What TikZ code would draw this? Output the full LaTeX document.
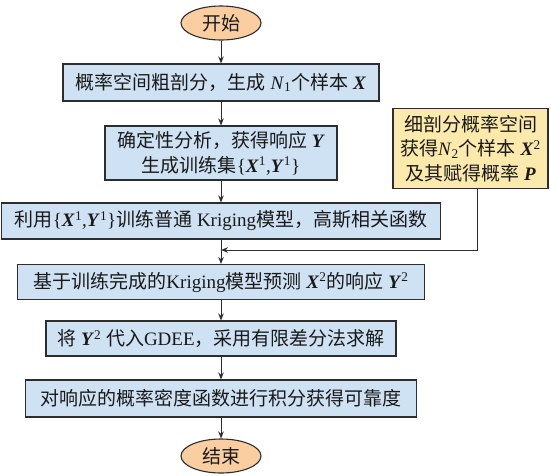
\documentclass[tikz,border=0pt]{standalone}
\usepackage{fontspec}
\setmainfont{Liberation Serif}
\newfontfamily\cjk{Noto Sans CJK SC}
\usetikzlibrary{shapes.geometric,arrows.meta}
\definecolor{boxblue}{RGB}{207,226,243}
\definecolor{termorange}{RGB}{250,206,160}
\definecolor{noteyellow}{RGB}{252,234,172}
\definecolor{edge}{RGB}{45,45,45}
\newcommand\zh[1]{{\cjk #1}}
\newcommand\bv[1]{\textbf{\textit{#1}}}
\tikzset{
  base/.style={draw=edge, line width=1.1pt, text=black!90, inner sep=0pt, align=center,
    font=\fontsize{19}{25}\selectfont},
  proc/.style={base, rectangle, fill=boxblue, minimum height=36pt},
  term/.style={base, ellipse, fill=termorange, minimum width=80pt, minimum height=34pt},
  note/.style={base, rectangle, fill=noteyellow, font=\fontsize{19}{24.5}\selectfont},
  arrow/.style={draw=edge, line width=1pt, -{Stealth[length=7pt,width=5.5pt]}}
}
\begin{document}
\begin{tikzpicture}[x=1pt,y=-1pt]
\fill[white] (0,0) rectangle (551,475);
\useasboundingbox (0,0) rectangle (551,475);
\node[term] (start) at (221,23) {\zh{开始}};
\node[proc, minimum width=316pt, minimum height=37pt] (b1) at (221,82.5)
  {\zh{概率空间粗剖分，生成} \textit{N}\textsubscript{1}\zh{个样本} \bv{X}};
\node[proc, minimum width=232pt, minimum height=54pt] (b2) at (221,153)
  {\zh{确定性分析，获得响应} \bv{Y}\\ \zh{生成训练集}\{\bv{X}\textsuperscript{1},\bv{Y}\textsuperscript{1}\}};
\node[proc, minimum width=439pt] (b3) at (221,221)
  {\zh{利用}\{\bv{X}\textsuperscript{1},\bv{Y}\textsuperscript{1}\}\zh{训练普通} Kriging\zh{模型，高斯相关函数}};
\node[proc, minimum width=407pt, minimum height=35pt] (b4) at (221,282)
  {\zh{基于训练完成的}Kriging\zh{模型预测} \bv{X}\textsuperscript{2}\zh{的响应} \bv{Y}\textsuperscript{2}};
\node[proc, minimum width=350pt, minimum height=35pt] (b5) at (221,338.5)
  {\zh{将} \bv{Y}\textsuperscript{2} \zh{代入}GDEE\zh{，采用有限差分法求解}};
\node[proc, minimum width=391pt, minimum height=37pt] (b6) at (221,398.5)
  {\zh{对响应的概率密度函数进行积分获得可靠度}};
\node[term] (end) at (221,456) {\zh{结束}};
\node[note, minimum width=155pt, minimum height=80pt] (yel) at (470.5,148.5)
  {\zh{细剖分概率空间}\\ \zh{获得}\textit{N}\textsubscript{2}\zh{个样本} \bv{X}\textsuperscript{2}\\ \zh{及其赋得概率} \bv{P}};
\coordinate (fb) at (477,250);
\coordinate (j) at (221,250);
\draw[arrow] (start) -- (b1);
\draw[arrow] (b1) -- (b2);
\draw[arrow] (b2) -- (b3);
\draw[arrow] (b3) -- (b4);
\draw[arrow] (b4) -- (b5);
\draw[arrow] (b5) -- (b6);
\draw[arrow] (b6) -- (end);
\draw[arrow] (yel.south -| fb) -- (fb) -- (j);
\end{tikzpicture}
\end{document}
